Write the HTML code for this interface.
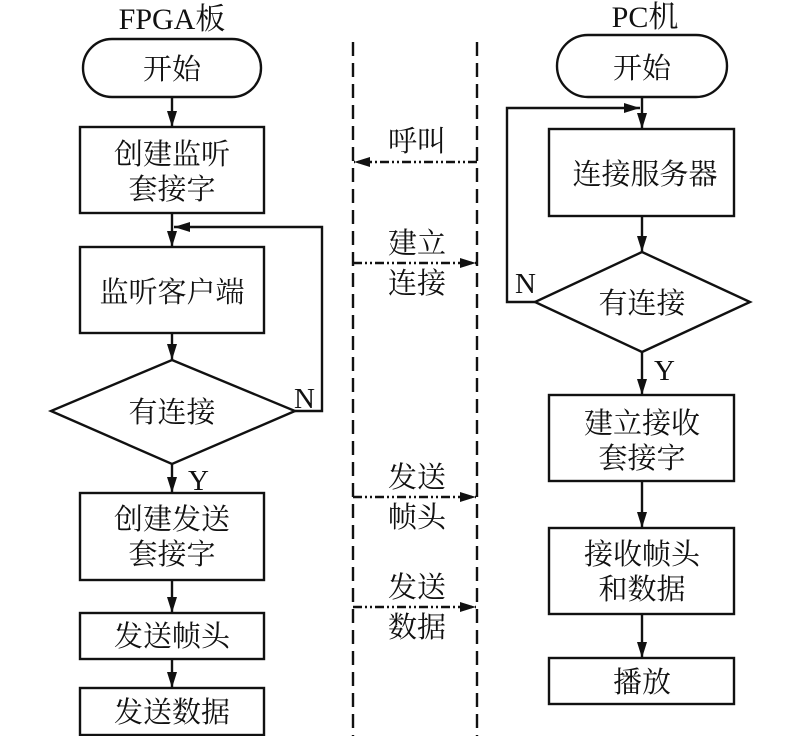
<!DOCTYPE html>
<html><head><meta charset="utf-8"><style>
html,body{margin:0;padding:0;background:#fff}
svg{display:block}
text{font-family:"Liberation Serif","Noto Serif CJK SC","Noto Sans CJK SC",serif;fill:#111;font-size:29px}
</style></head><body>
<svg width="800" height="736" viewBox="0 0 800 736" xmlns="http://www.w3.org/2000/svg">
<defs>
<marker id="a" markerWidth="16" markerHeight="10" refX="16" refY="5" orient="auto" markerUnits="userSpaceOnUse">
<path d="M0,0 L16,5 L0,10 Z" fill="#111"/></marker>
</defs>
<g stroke="#111" stroke-width="2.4" fill="none">
<line x1="353" y1="42" x2="353" y2="736" stroke-dasharray="14,7"/>
<line x1="477" y1="42" x2="477" y2="736" stroke-dasharray="14,7"/>
<rect x="83" y="39" width="178" height="58" rx="29"/>
<line x1="172" y1="97" x2="172" y2="127" marker-end="url(#a)"/>
<rect x="80" y="127" width="184" height="86"/>
<line x1="172" y1="213" x2="172" y2="247" marker-end="url(#a)"/>
<polyline points="295,411 322,411 322,227 174,227" marker-end="url(#a)"/>
<rect x="80" y="247" width="184" height="86"/>
<line x1="172" y1="333" x2="172" y2="360" marker-end="url(#a)"/>
<polygon points="172,360 295,411 172,464 51,411"/>
<line x1="172" y1="464" x2="172" y2="493" marker-end="url(#a)"/>
<rect x="80" y="493" width="184" height="87"/>
<line x1="172" y1="580" x2="172" y2="613" marker-end="url(#a)"/>
<rect x="80" y="613" width="184" height="46"/>
<line x1="172" y1="659" x2="172" y2="688" marker-end="url(#a)"/>
<rect x="80" y="688" width="184" height="47"/>
<rect x="557" y="35" width="170" height="62" rx="31"/>
<line x1="642" y1="97" x2="642" y2="129" marker-end="url(#a)"/>
<polyline points="535,302 507,302 507,108 640,108" marker-end="url(#a)"/>
<rect x="549" y="129" width="185" height="87"/>
<line x1="642" y1="216" x2="642" y2="252" marker-end="url(#a)"/>
<polygon points="642,252 750,302 642,352 535,302"/>
<line x1="642" y1="352" x2="642" y2="395" marker-end="url(#a)"/>
<rect x="549" y="395" width="185" height="86"/>
<line x1="642" y1="481" x2="642" y2="528" marker-end="url(#a)"/>
<rect x="549" y="528" width="185" height="86"/>
<line x1="642" y1="614" x2="642" y2="658" marker-end="url(#a)"/>
<rect x="549" y="658" width="185" height="46"/>
<g stroke-dasharray="9,3,2,3,2,3">
<line x1="477" y1="162" x2="354" y2="162" marker-end="url(#a)"/>
<line x1="353" y1="263" x2="476" y2="263" marker-end="url(#a)"/>
<line x1="353" y1="497" x2="476" y2="497" marker-end="url(#a)"/>
<line x1="353" y1="607" x2="476" y2="607" marker-end="url(#a)"/>
</g>
</g>
<g text-anchor="middle">
<text x="172" y="29" style="font-size:30px">FPGA板</text>
<text x="172" y="79">开始</text>
<text x="172" y="164">创建监听</text>
<text x="172" y="199">套接字</text>
<text x="172" y="302">监听客户端</text>
<text x="172" y="422">有连接</text>
<text x="172" y="529">创建发送</text>
<text x="172" y="564">套接字</text>
<text x="172" y="646">发送帧头</text>
<text x="172" y="722">发送数据</text>
<text x="645" y="27" style="font-size:30px">PC机</text>
<text x="642" y="78">开始</text>
<text x="645" y="184">连接服务器</text>
<text x="642" y="313">有连接</text>
<text x="642" y="433">建立接收</text>
<text x="642" y="468">套接字</text>
<text x="642" y="564">接收帧头</text>
<text x="642" y="599">和数据</text>
<text x="642" y="692">播放</text>
<text x="417" y="151">呼叫</text>
<text x="417" y="253">建立</text>
<text x="417" y="293">连接</text>
<text x="417" y="487">发送</text>
<text x="417" y="527">帧头</text>
<text x="417" y="597">发送</text>
<text x="417" y="637">数据</text>
</g>
<text x="294" y="408">N</text>
<text x="188" y="490">Y</text>
<text x="515" y="293">N</text>
<text x="654" y="380">Y</text>
</svg>
</body></html>
